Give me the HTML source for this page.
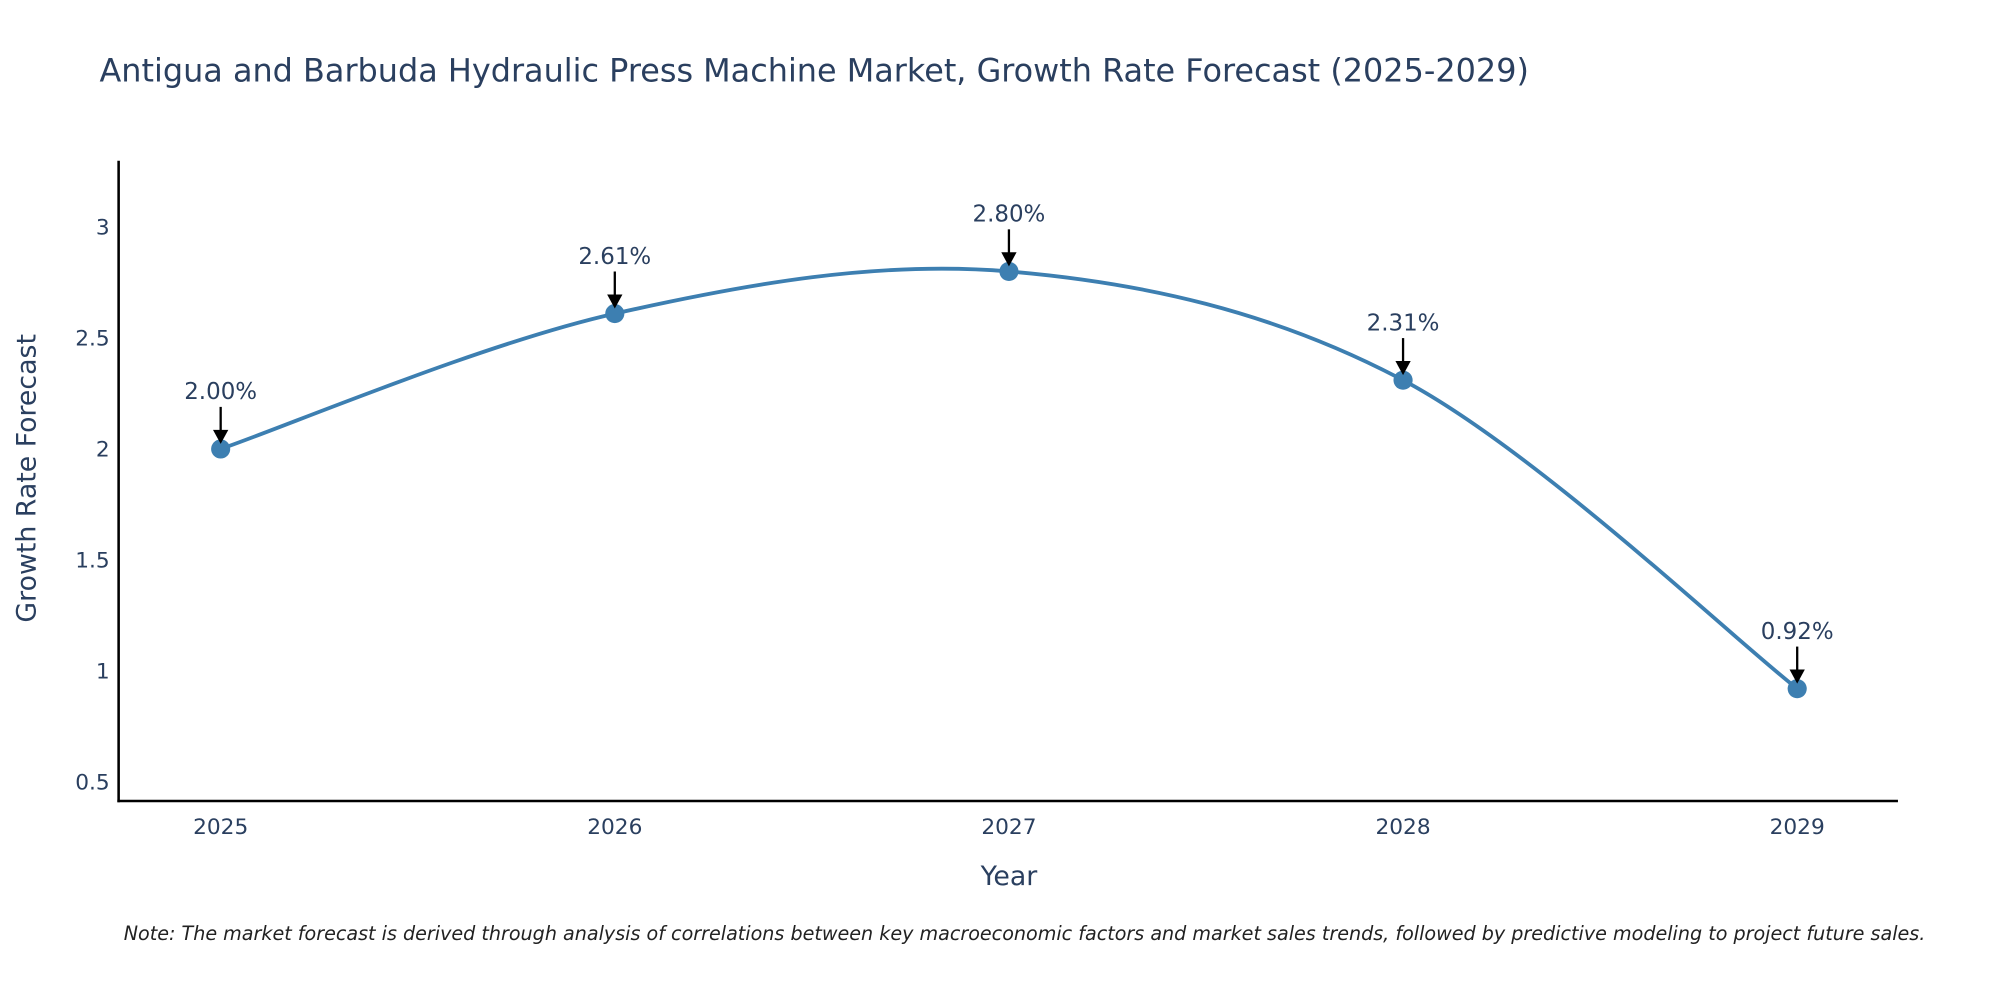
<!DOCTYPE html>
<html><head><meta charset="utf-8"><style>
html,body{margin:0;padding:0;background:#fff;}
svg{display:block;font-family:"DejaVu Sans","Liberation Sans",sans-serif;}
</style></head><body>
<svg id="chart" width="2000" height="1000" viewBox="0 0 1568 784" preserveAspectRatio="none" xmlns="http://www.w3.org/2000/svg">
<text x="78" y="64" font-size="25" fill="#2a3f5f">Antigua and Barbuda Hydraulic Press Machine Market, Growth Rate Forecast (2025-2029)</text>
<g id="yticks"></g><g id="xticks"></g>
<line x1="93" y1="126" x2="93" y2="629" stroke="#000" stroke-width="2"/>
<line x1="92" y1="628" x2="1488" y2="628" stroke="#000" stroke-width="2"/>
<path id="line" fill="none" stroke="#3d7fb1" stroke-width="3"/>
<g id="points"></g>
<text transform="translate(28,375) rotate(-90)" text-anchor="middle" font-size="21" fill="#2a3f5f">Growth Rate Forecast</text>
<text x="791" y="694" text-anchor="middle" font-size="21" fill="#2a3f5f">Year</text>
<text x="97" y="737" font-size="15" font-style="italic" fill="#222">Note: The market forecast is derived through analysis of correlations between key macroeconomic factors and market sales trends, followed by predictive modeling to project future sales.</text>
</svg>
<script>
const years = [2025, 2026, 2027, 2028, 2029];
const values = [2.00, 2.61, 2.80, 2.31, 0.92];
const labels = ["2.00%", "2.61%", "2.80%", "2.31%", "0.92%"];
const yTicks = [0.5, 1, 1.5, 2, 2.5, 3];
const NS = "http://www.w3.org/2000/svg";
const xs = y => 173 + (y - 2025) * 309;
const ys = v => 352 - (v - 2) * 174;
function mk(tag, attrs, parent, txt){const e=document.createElementNS(NS,tag);for(const k in attrs)e.setAttribute(k,attrs[k]);if(txt!==undefined)e.textContent=txt;parent.appendChild(e);return e;}
const yt=document.getElementById('yticks');
yTicks.forEach(t=>{const e=mk('text',{x:86,y:ys(t)+6,'text-anchor':'end','font-size':17,fill:'#2a3f5f'},yt,String(t));

});
const xt=document.getElementById('xticks');
years.forEach(y=>{const e=mk('text',{x:xs(y),y:654,'text-anchor':'middle','font-size':17,fill:'#2a3f5f'},xt,String(y));

});
const P=years.map((y,i)=>[xs(y),ys(values[i])]);
let d=`M${P[0][0]},${P[0][1]}`;
for(let i=0;i<P.length-1;i++){const p0=P[Math.max(0,i-1)],p1=P[i],p2=P[i+1],p3=P[Math.min(P.length-1,i+2)];const s=1/6;
d+=` C${p1[0]+(p2[0]-p0[0])*s},${p1[1]+(p2[1]-p0[1])*s} ${p2[0]-(p3[0]-p1[0])*s},${p2[1]-(p3[1]-p1[1])*s} ${p2[0]},${p2[1]}`;}
document.getElementById('line').setAttribute('d',d);
const pg=document.getElementById('points');
P.forEach((p,i)=>{
const c=mk('circle',{cx:p[0],cy:p[1],r:7.5,fill:'#3d7fb1'},pg);


const l=mk('line',{x1:p[0],y1:p[1]-33,x2:p[0],y2:p[1]-14,stroke:'#000','stroke-width':1.8},pg);


const h=mk('polygon',{points:`${p[0]-6},${p[1]-15} ${p[0]+6},${p[1]-15} ${p[0]},${p[1]-4}`,fill:'#000'},pg);


const t=mk('text',{x:p[0],y:p[1]-39,'text-anchor':'middle','font-size':18,fill:'#2a3f5f'},pg,labels[i]);


});
</script>
</body></html>
